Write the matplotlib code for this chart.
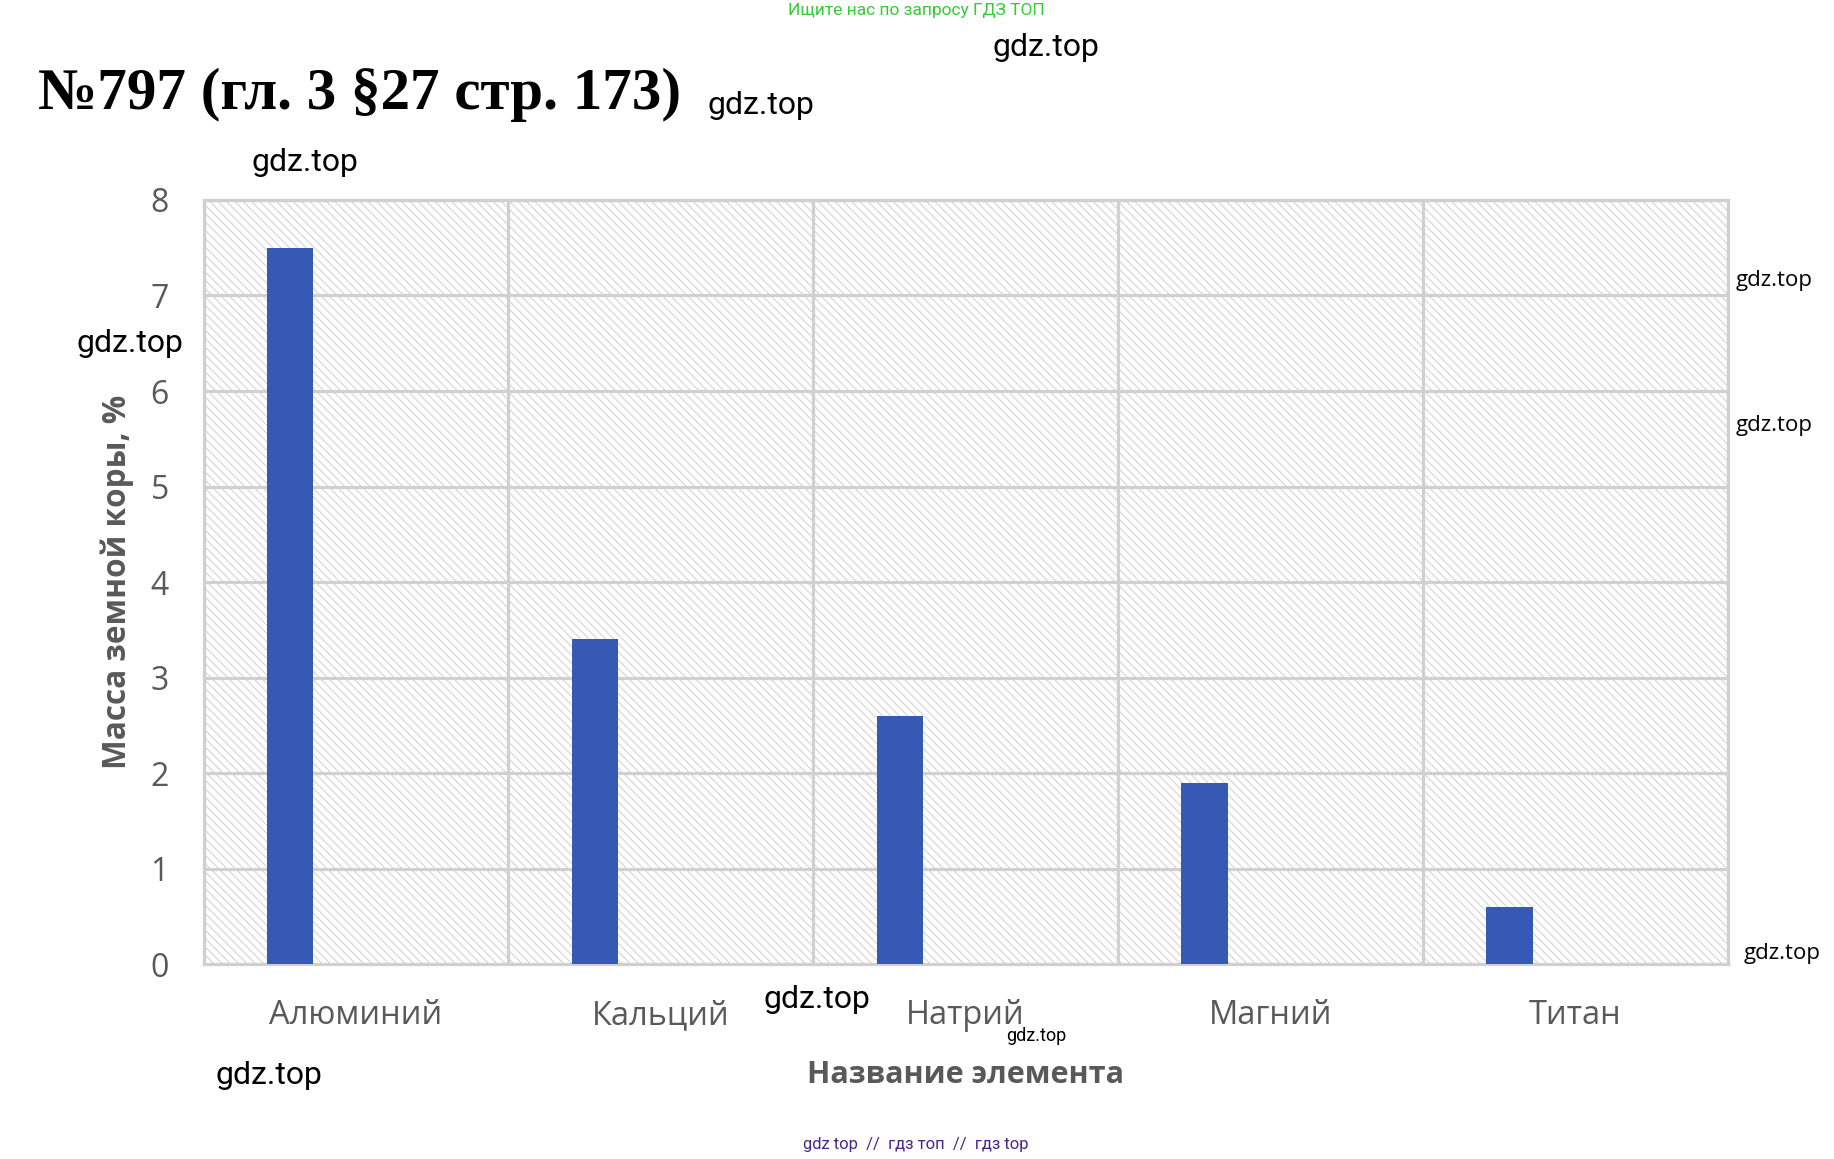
import numpy as np
import matplotlib
matplotlib.use("Agg")
import matplotlib.pyplot as plt
from matplotlib.patches import Rectangle

# Data
elements = ["Алюминий", "Кальций", "Натрий", "Магний", "Титан"]
mass_share = [7.5, 3.4, 2.6, 1.9, 0.6]
y_ticks = [0, 1, 2, 3, 4, 5, 6, 7, 8]

title_text = "№797 (гл. 3 §27 стр. 173)"
y_title = "Масса земной коры, %"
x_title = "Название элемента"

BAR_COLOR = "#3559b5"
GRID_COLOR = "#d0d0d0"
TEXT_GRAY = "#595959"

plt.rcParams["hatch.linewidth"] = 0.85

fig = plt.figure(figsize=(18.34, 11.59), dpi=100)
fig.patch.set_facecolor("white")
ax = fig.add_axes([0.111, 0.168, 0.831, 0.6595])

# hatched plot-area background
bg = Rectangle((0, 0), 1, 1, transform=ax.transAxes, facecolor="white",
               edgecolor="#d6d6d6", hatch="\\\\\\\\", linewidth=0, zorder=0)
ax.add_patch(bg)
ax.patch.set_visible(False)

x = np.arange(len(elements))
bar_w = 0.152
ax.bar(x - 0.216, mass_share, width=bar_w, color=BAR_COLOR, zorder=3)

ax.set_xlim(-0.5, len(elements) - 0.5)
ax.set_ylim(0, 8)
ax.set_yticks(y_ticks)
ax.set_yticklabels([str(v) for v in y_ticks])
ax.set_xticks(x)
ax.set_xticklabels(elements)
ax.set_xticks(np.arange(-0.5, len(elements), 1.0), minor=True)

ax.grid(axis="y", which="major", color=GRID_COLOR, linewidth=2.3, zorder=1)
ax.grid(axis="x", which="minor", color=GRID_COLOR, linewidth=2.3, zorder=1)
ax.set_axisbelow(True)
for s in ax.spines.values():
    s.set_color(GRID_COLOR)
    s.set_linewidth(2.3)

ax.tick_params(axis="both", which="both", length=0)
ax.tick_params(axis="y", pad=25, labelsize=23, labelcolor=TEXT_GRAY)
ax.tick_params(axis="x", pad=25, labelsize=23.5, labelcolor=TEXT_GRAY)
for lab in ax.get_xticklabels() + ax.get_yticklabels():
    lab.set_fontfamily("Open Sans")

ax.set_ylabel(y_title, fontsize=22.7, fontweight="bold", color=TEXT_GRAY,
              fontfamily="Open Sans", labelpad=12)
ax.set_xlabel(x_title, fontsize=22, fontweight="bold", color=TEXT_GRAY,
              fontfamily="Open Sans", labelpad=20)

# heading
fig.text(38 / 1834, 1 - 95 / 1159, title_text, fontsize=42.5, fontweight="bold",
         fontfamily="Liberation Serif", ha="left", va="center", color="black")

# site marks
def px(xp, yp):
    return xp / 1834, 1 - yp / 1159

fig.text(*px(916, 11), "Ищите нас по запросу ГДЗ ТОП", fontsize=12.5,
         fontfamily="Roboto", color="#33cc33", ha="center", va="center")
fig.text(*px(916, 1144), "gdz top  //  гдз топ  //  гдз top", fontsize=12,
         fontfamily="Roboto", color="#4b2585", ha="center", va="center")

marks_big = [(1046, 47), (761, 106), (305, 163), (130, 343), (817, 999), (269, 1075)]
for mx, my in marks_big:
    fig.text(*px(mx, my), "gdz.top", fontsize=23, fontfamily="Roboto",
             color="black", ha="center", va="center")

marks_side = [(1774, 281), (1774, 425), (1782, 953)]
for mx, my in marks_side:
    fig.text(*px(mx, my), "gdz.top", fontsize=16, fontfamily="Open Sans",
             color="black", ha="center", va="center")

fig.text(*px(1036, 1036), "gdz.top", fontsize=13, fontfamily="Roboto",
         color="black", ha="center", va="center")

fig.savefig("out.png", dpi=100, facecolor="white")
